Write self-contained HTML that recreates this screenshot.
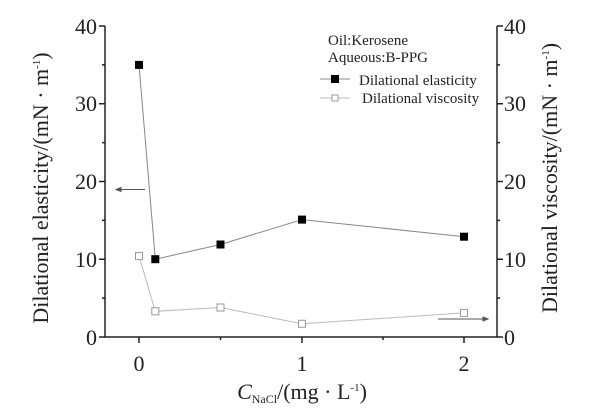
<!DOCTYPE html>
<html><head><meta charset="utf-8"><style>
body{margin:0;background:#fff;}
svg{display:block;}
text{font-family:"Liberation Serif","DejaVu Serif",serif;}
</style></head><body>
<svg width="609" height="418" viewBox="0 0 609 418" xmlns="http://www.w3.org/2000/svg" font-family="Liberation Serif, DejaVu Serif, serif">
<rect width="609" height="418" fill="#fff"/>
<g stroke="#222" stroke-width="1.5" fill="none">
<path d="M105,26 V337 H497 V26"/>
<path d="M99,26H105 M99,103.7H105 M99,181.5H105 M99,259.2H105 M99,337H105"/>
<path d="M102,64.9H105 M102,142.6H105 M102,220.4H105 M102,298.1H105"/>
<path d="M497,26H503 M497,103.7H503 M497,181.5H503 M497,259.2H503 M497,337H503"/>
<path d="M497,64.9H500 M497,142.6H500 M497,220.4H500 M497,298.1H500"/>
<path d="M139,337V343 M302,337V343 M464,337V343 M220.5,337V340 M383,337V340"/>
</g>
<g font-size="22" fill="#222" text-anchor="end">
<text x="97" y="34">40</text><text x="97" y="111">30</text><text x="97" y="189">20</text><text x="97" y="267">10</text><text x="97" y="345">0</text>
</g>
<g font-size="22" fill="#222" text-anchor="start">
<text x="504" y="34">40</text><text x="504" y="111">30</text><text x="504" y="189">20</text><text x="504" y="267">10</text><text x="504" y="345">0</text>
</g>
<g font-size="22" fill="#222" text-anchor="middle">
<text x="139" y="371">0</text><text x="302" y="371">1</text><text x="464" y="371">2</text>
</g>
<text x="302" y="399" font-size="22" fill="#222" text-anchor="middle"><tspan font-style="italic">C</tspan><tspan font-size="12" dy="4">NaCl</tspan><tspan dy="-4">/(mg · L</tspan><tspan font-size="11" dy="-8">-1</tspan><tspan dy="8">)</tspan></text>
<text transform="translate(48,188) rotate(-90)" font-size="22" fill="#222" text-anchor="middle">Dilational elasticity/(mN · m<tspan font-size="11" dy="-8">-1</tspan><tspan dy="8">)</tspan></text>
<text transform="translate(557,178) rotate(-90)" font-size="22" fill="#222" text-anchor="middle">Dilational viscosity/(mN · m<tspan font-size="11" dy="-8">-1</tspan><tspan dy="8">)</tspan></text>
<polyline points="139,64.9 155.3,259.2 220.5,244.5 302,219.6 464,236.7" fill="none" stroke="#888" stroke-width="1"/>
<polyline points="139,256.1 155.3,311.3 220.5,307.5 302,323.8 464,312.9" fill="none" stroke="#bbb" stroke-width="1"/>
<g fill="#000">
<rect x="135" y="60.9" width="8" height="8"/><rect x="151.3" y="255.2" width="8" height="8"/><rect x="216.5" y="240.5" width="8" height="8"/><rect x="298" y="215.6" width="8" height="8"/><rect x="460" y="232.7" width="8" height="8"/>
</g>
<g fill="#fff" stroke="#999" stroke-width="1">
<rect x="135.5" y="252.6" width="7" height="7"/><rect x="151.8" y="307.8" width="7" height="7"/><rect x="217" y="304" width="7" height="7"/><rect x="298.5" y="320.3" width="7" height="7"/><rect x="460.5" y="309.4" width="7" height="7"/>
</g>
<g stroke="#555" stroke-width="1" fill="#555">
<path d="M145,189.5H118"/><path d="M116,189.5l5,-2v4z"/>
<path d="M438,319H486"/><path d="M488,319l-5,-2v4z"/>
</g>
<g font-size="15" fill="#222">
<text x="328" y="45">Oil:Kerosene</text>
<text x="328" y="62">Aqueous:B-PPG</text>
<text x="359" y="85">Dilational elasticity</text>
<text x="362" y="103">Dilational viscosity</text>
</g>
<path d="M320,79H350" stroke="#888"/><rect x="331" y="75" width="8" height="8" fill="#000"/>
<path d="M320,98H350" stroke="#bbb"/><rect x="332" y="95" width="6" height="6" fill="#fff" stroke="#999"/>
</svg>
</body></html>
